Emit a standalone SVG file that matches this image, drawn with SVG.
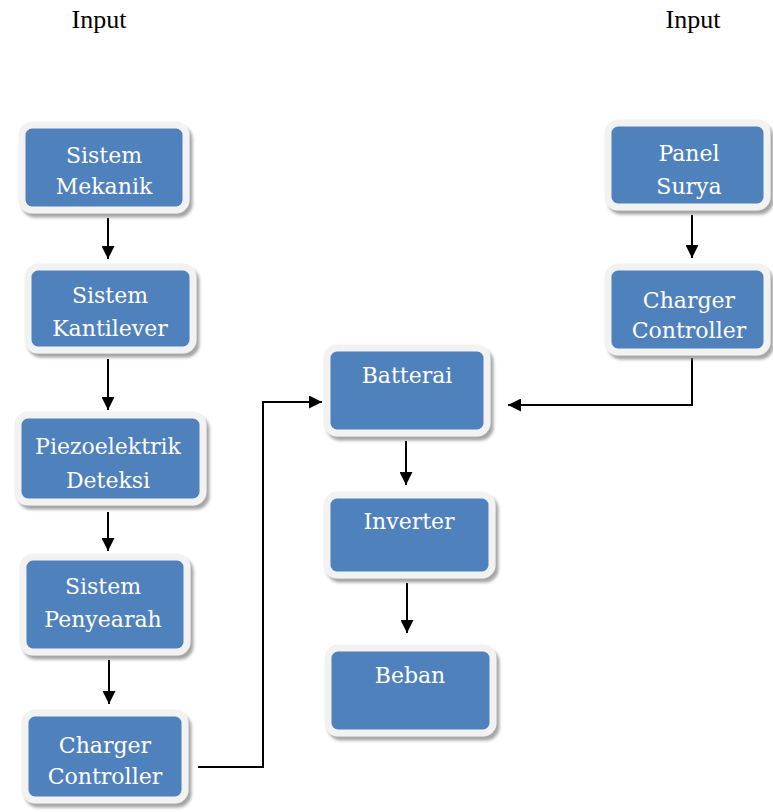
<svg xmlns="http://www.w3.org/2000/svg" width="773" height="812" viewBox="0 0 773 812">
<style>
.box{fill:#4F81BD;stroke:#F2F2F2;stroke-width:7;filter:url(#sh)}
.t{font-family:"DejaVu Serif","Liberation Serif",serif;font-size:22px;fill:#FFFFFF;text-anchor:middle}
.in{font-family:"Liberation Serif","Times New Roman",serif;font-size:26px;fill:#000;text-anchor:middle}
.c{fill:none;stroke:#000;stroke-width:2}
</style>
<defs>
<filter id="sh" x="-20%" y="-20%" width="140%" height="150%">
<feDropShadow dx="3" dy="4" stdDeviation="1.5" flood-color="#7F7F7F" flood-opacity="0.7"/>
</filter>
<marker id="ah" viewBox="0 0 10 10" refX="10" refY="5" markerWidth="14" markerHeight="13" orient="auto" markerUnits="userSpaceOnUse">
<path d="M0,0 L10,5 L0,10 z" fill="#000"/>
</marker>
</defs>
<rect width="773" height="812" fill="#fff"/>
<text class="in" x="99" y="28">Input</text>
<text class="in" x="693" y="28">Input</text>

<g id="connectors">
<line class="c" x1="108" y1="218" x2="108" y2="259" marker-end="url(#ah)"/>
<line class="c" x1="108" y1="359" x2="108" y2="410" marker-end="url(#ah)"/>
<line class="c" x1="108" y1="512" x2="108" y2="551" marker-end="url(#ah)"/>
<line class="c" x1="109" y1="660" x2="109" y2="704" marker-end="url(#ah)"/>
<line class="c" x1="692" y1="215" x2="692" y2="258" marker-end="url(#ah)"/>
<line class="c" x1="406" y1="441" x2="406" y2="485" marker-end="url(#ah)"/>
<line class="c" x1="407" y1="583" x2="407" y2="633" marker-end="url(#ah)"/>
<polyline class="c" points="198,767 263,767 263,402 322,402" marker-end="url(#ah)"/>
<polyline class="c" points="692,358 692,405 508,405" marker-end="url(#ah)"/>
</g>

<g id="sistem-mekanik">
<rect class="box" x="22" y="125" width="164" height="85" rx="10"/>
<text class="t" x="104" y="163">Sistem</text>
<text class="t" x="104" y="194">Mekanik</text>
</g>
<g id="sistem-kantilever">
<rect class="box" x="28" y="267" width="165" height="83" rx="10"/>
<text class="t" x="110" y="303">Sistem</text>
<text class="t" x="110" y="336">Kantilever</text>
</g>
<g id="piezoelektrik">
<rect class="box" x="18" y="415" width="185" height="87" rx="10"/>
<text class="t" x="108" y="454">Piezoelektrik</text>
<text class="t" x="108" y="488">Deteksi</text>
</g>
<g id="sistem-penyearah">
<rect class="box" x="23" y="557" width="164" height="95" rx="10"/>
<text class="t" x="103" y="594">Sistem</text>
<text class="t" x="103" y="627">Penyearah</text>
</g>
<g id="charger-controller-left">
<rect class="box" x="25" y="713" width="160" height="87" rx="10"/>
<text class="t" x="105" y="753">Charger</text>
<text class="t" x="105" y="784">Controller</text>
</g>
<g id="panel-surya">
<rect class="box" x="608" y="123" width="159" height="84" rx="10"/>
<text class="t" x="689" y="161">Panel</text>
<text class="t" x="689" y="194">Surya</text>
</g>
<g id="charger-controller-right">
<rect class="box" x="608" y="267" width="159" height="85" rx="10"/>
<text class="t" x="689" y="308">Charger</text>
<text class="t" x="689" y="338">Controller</text>
</g>
<g id="batterai">
<rect class="box" x="327" y="348" width="160" height="85" rx="10"/>
<text class="t" x="407" y="383">Batterai</text>
</g>
<g id="inverter">
<rect class="box" x="327" y="495" width="165" height="80" rx="10"/>
<text class="t" x="409" y="529">Inverter</text>
</g>
<g id="beban">
<rect class="box" x="328" y="648" width="165" height="85" rx="10"/>
<text class="t" x="410" y="683">Beban</text>
</g>
</svg>
